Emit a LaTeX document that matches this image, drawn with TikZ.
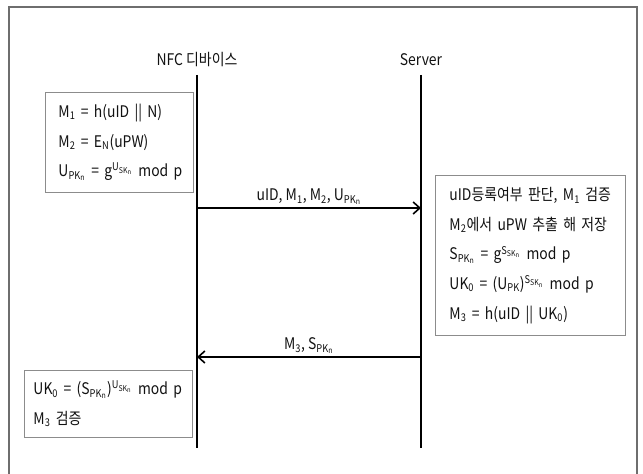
\documentclass[tikz,border=0pt]{standalone}
\usepackage{fontspec}
\setmainfont{Noto Sans CJK KR}[FakeStretch=0.87]
\usetikzlibrary{arrows.meta}
\newcommand{\sbs}[1]{\textsubscript{#1}}
\newcommand{\sps}[1]{\textsuperscript{#1}}
\definecolor{framegray}{HTML}{6E6E6E}
\definecolor{boxgray}{HTML}{8C8C8C}
\definecolor{txt}{HTML}{111111}
\begin{document}
\begin{tikzpicture}[x=0.75pt,y=-0.75pt,
  every node/.style={text=txt, font=\fontsize{12}{22.2}\selectfont},
  frameline/.style={draw=framegray, line width=0.9pt},
  lifeline/.style={draw=black, line width=1.5pt},
  msgbox/.style={draw=boxgray, line width=0.7pt, rectangle, anchor=north west, align=left, inner ysep=0pt},
  msgarrow/.style={draw=black, line width=1.3pt, -{Straight Barb[length=5pt,width=9pt,line width=1.2pt]}},
  msglabel/.style={above, inner sep=2pt}
]
\useasboundingbox (0,0) rectangle (643,474);
% outer frame
\coordinate (fbl) at (9,476);
\coordinate (ftl) at (9,7);
\coordinate (ftr) at (637,7);
\coordinate (fbr) at (637,476);
\draw[frameline] (fbl) -- (ftl) -- (ftr) -- (fbr);

% participants
\node (nfc) at (197,60) {NFC 디바이스};
\node (srv) at (421,60) {Server};
\coordinate (nfctop) at (197,75);
\coordinate (nfcbot) at (197,448);
\coordinate (srvtop) at (421,75);
\coordinate (srvbot) at (421,448);
\draw[lifeline] (nfctop) -- (nfcbot);
\draw[lifeline] (srvtop) -- (srvbot);

% box 1
\node[msgbox, inner xsep=9.75pt, text width={(193-45-26)*0.75pt}, minimum height={100*0.75pt}] (b1) at (45,92)
 {\mbox{M\sbs{1} = h(uID || N)}\\
  \mbox{M\sbs{2} = E\sbs{N}(uPW)}\\
  \mbox{U\sbs{PK\sbs{n}} = g\sps{U\sbs{SK\sbs{n}}} mod p}};

% message 1
\coordinate (m1s) at (197,208);
\coordinate (m1e) at (421,208);
\draw[msgarrow] (m1s) -- node[msglabel] (l1) {uID, M\sbs{1}, M\sbs{2}, U\sbs{PK\sbs{n}}} (m1e);

% box 2
\node[msgbox, inner xsep=10.5pt, text width={(625-435-28)*0.75pt}, minimum height={160*0.75pt}] (b2) at (435,175)
 {\mbox{uID등록여부 판단, M\sbs{1} 검증}\\
  \mbox{M\sbs{2}에서 uPW 추출 해 저장}\\
  \mbox{S\sbs{PK\sbs{n}} = g\sps{S\sbs{SK\sbs{n}}} mod p}\\
  \mbox{UK\sbs{0} = (U\sbs{PK})\sps{S\sbs{SK\sbs{n}}} mod p}\\
  \mbox{M\sbs{3} = h(uID || UK\sbs{0})}};

% message 2
\coordinate (m2s) at (421,357);
\coordinate (m2e) at (197,357);
\draw[msgarrow] (m2s) -- node[msglabel] (l2) {M\sbs{3}, S\sbs{PK\sbs{n}}} (m2e);

% box 3
\node[msgbox, inner xsep=6.75pt, text width={(192-24-18)*0.75pt}, minimum height={67*0.75pt}] (b3) at (24,370)
 {\mbox{UK\sbs{0} = (S\sbs{PK\sbs{n}})\sps{U\sbs{SK\sbs{n}}} mod p}\\
  \mbox{M\sbs{3} 검증}};
\end{tikzpicture}
\end{document}
